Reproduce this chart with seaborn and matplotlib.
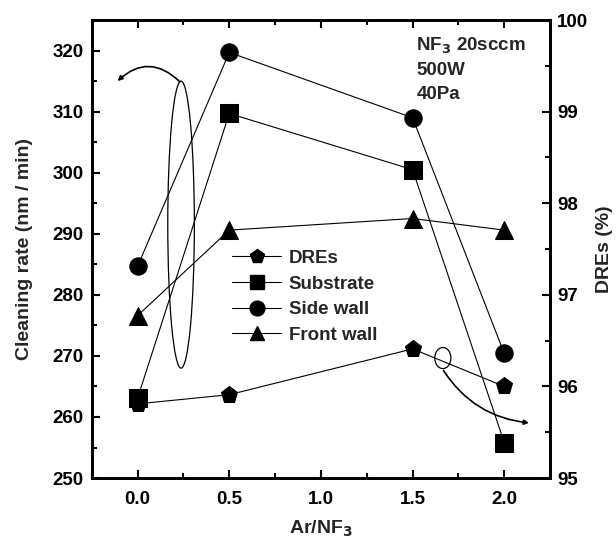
import matplotlib
matplotlib.use("Agg")
import matplotlib.pyplot as plt
import seaborn as sns
import pandas as pd
from matplotlib.patches import Ellipse, FancyArrowPatch
from matplotlib.lines import Line2D
from matplotlib.ticker import MultipleLocator

sns.set_theme(style="ticks")
plt.rcParams['font.family'] = ['Liberation Sans', 'DejaVu Sans']
plt.rcParams['font.weight'] = 'bold'
plt.rcParams['axes.labelweight'] = 'bold'

ratio = [0.0, 0.5, 1.5, 2.0]
substrate = [263.1, 309.7, 300.5, 255.8]
side_wall = [284.7, 319.7, 309.0, 270.4]
front_wall = [276.6, 290.6, 292.5, 290.6]
dres = [95.81, 95.91, 96.41, 96.0]

fig = plt.figure(figsize=(6.16, 5.42), dpi=100)
ax = fig.add_axes([0.149, 0.118, 0.744, 0.845])
ax2 = ax.twinx()

mk = dict(color='black', linewidth=0.8, markersize=12.5, markeredgecolor='black',
          markerfacecolor='black')
sns.lineplot(x=ratio, y=substrate, ax=ax, marker='s', **mk)
sns.lineplot(x=ratio, y=side_wall, ax=ax, marker='o', **mk)
sns.lineplot(x=ratio, y=front_wall, ax=ax, marker='^', **mk)
sns.lineplot(x=ratio, y=dres, ax=ax2, marker='p', **mk)

ax.set_xlim(-0.25, 2.25)
ax.set_ylim(250, 325)
ax2.set_ylim(95, 100)
ax.set_yticks([250, 260, 270, 280, 290, 300, 310, 320])
ax.yaxis.set_minor_locator(MultipleLocator(5))
ax.set_xticks([0.0, 0.5, 1.0, 1.5, 2.0])
ax.xaxis.set_minor_locator(MultipleLocator(0.25))
ax2.set_yticks([95, 96, 97, 98, 99, 100])
ax2.yaxis.set_minor_locator(MultipleLocator(0.5))
ax.set_xticklabels(['0.0', '0.5', '1.0', '1.5', '2.0'])

for a in (ax, ax2):
    for s in a.spines.values():
        s.set_linewidth(2)
        s.set_color('black')
ax.tick_params(axis='both', which='both', direction='in', top=True, right=False,
               labelsize=13.5, width=1.5, colors='black')
ax.tick_params(which='major', length=6)
ax.tick_params(which='minor', length=3.5)
ax.tick_params(axis='x', which='major', pad=9)
ax.tick_params(axis='y', which='major', pad=6)
ax2.tick_params(axis='y', which='both', direction='in', labelsize=13.5, width=1.5, colors='black')
ax2.tick_params(which='major', length=6, pad=5)
ax2.tick_params(which='minor', length=3.5)
for lab in ax.get_xticklabels() + ax.get_yticklabels() + ax2.get_yticklabels():
    lab.set_fontweight('bold')

ax.set_xlabel('Ar/NF$_\\mathbf{3}$', fontsize=14, fontweight='bold', labelpad=8)
ax.set_ylabel('Cleaning rate (nm / min)', fontsize=14, fontweight='bold', labelpad=14)
ax2.set_ylabel('DREs (%)', fontsize=14, fontweight='bold', labelpad=6)

ax.text(1.52, 322.5, 'NF$_\\mathbf{3}$ 20sccm\n500W\n40Pa', fontsize=13.5, fontweight='bold',
        va='top', ha='left', linespacing=1.5)

handles = [Line2D([], [], marker=m, **mk) for m in ['p', 's', 'o', '^']]
ax.legend(handles, ['DREs', 'Substrate', 'Side wall', 'Front wall'], loc='upper left',
          bbox_to_anchor=(0.27, 0.535), frameon=False, prop={'size': 13.5, 'weight': 'bold'},
          handlelength=2.6, handletextpad=0.4, labelspacing=0.45, markerscale=0.85)

# annotation ellipses and arrows
ax.add_patch(Ellipse((0.237, 291.5), 0.145, 47, fill=False, lw=0.9, color='black'))
ax.add_patch(FancyArrowPatch((0.24, 314.6), (-0.12, 314.7), connectionstyle='arc3,rad=0.5',
                             arrowstyle='-|>', mutation_scale=7, lw=1.2, color='black'))
ax2.add_patch(Ellipse((1.665, 96.31), 0.088, 0.23, fill=False, lw=0.9, color='black'))
ax2.add_patch(FancyArrowPatch((1.66, 96.2), (2.15, 95.6), connectionstyle='arc3,rad=0.25',
                              arrowstyle='-|>', mutation_scale=7, lw=1.2, color='black'))

fig.savefig('out.png', dpi=100)
